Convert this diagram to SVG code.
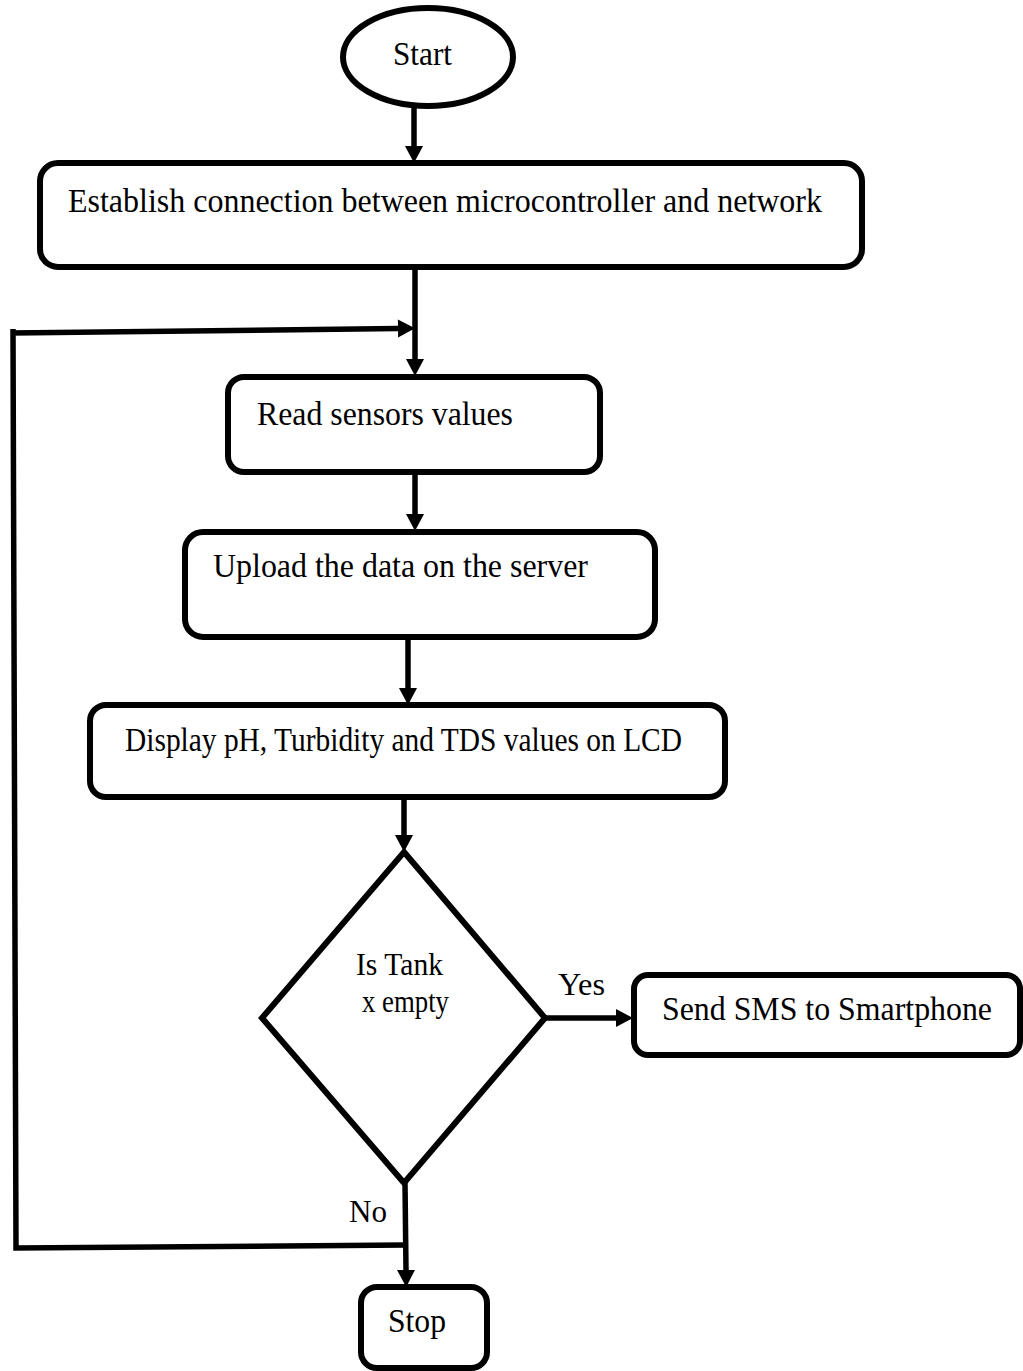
<svg xmlns="http://www.w3.org/2000/svg" width="1023" height="1371" viewBox="0 0 1023 1371">
<defs>
<style>
.box{fill:#fff;stroke:#000;stroke-width:6}
.ln{fill:none;stroke:#000;stroke-width:5.5}
.t{font-family:"Liberation Serif","Times New Roman",serif;font-size:33px;fill:#000}
.s{font-size:31px}
</style>
<marker id="ah" markerUnits="userSpaceOnUse" markerWidth="20" markerHeight="20" refX="0" refY="9" orient="auto" overflow="visible">
<path d="M0,0 L17,9 L0,18 Z" fill="#000"/>
</marker>
</defs>
<rect width="1023" height="1371" fill="#fff"/>
<g id="connectors">
<line class="ln" x1="414" y1="107" x2="414" y2="146" marker-end="url(#ah)"/>
<line class="ln" x1="415" y1="267" x2="415" y2="359" marker-end="url(#ah)"/>
<line class="ln" x1="415" y1="472" x2="415" y2="514" marker-end="url(#ah)"/>
<line class="ln" x1="408" y1="637" x2="408" y2="688" marker-end="url(#ah)"/>
<line class="ln" x1="404" y1="797" x2="404" y2="835" marker-end="url(#ah)"/>
<line class="ln" x1="545" y1="1018" x2="616" y2="1018" marker-end="url(#ah)"/>
<line class="ln" x1="405" y1="1183" x2="406" y2="1270" marker-end="url(#ah)"/>
<path class="ln" d="M406,1245 L16,1248 L13,329 M11,333 L398,328.5" marker-end="url(#ah)"/>
</g>
<g id="start">
<ellipse class="box" cx="428" cy="57" rx="85" ry="49"/>
<text class="t" x="393" y="65" textLength="59" lengthAdjust="spacingAndGlyphs">Start</text>
</g>
<g id="establish">
<rect class="box" x="40" y="163" width="822" height="104" rx="18"/>
<text class="t" x="68" y="212" textLength="754" lengthAdjust="spacingAndGlyphs">Establish connection between microcontroller and network</text>
</g>
<g id="read">
<rect class="box" x="228" y="377" width="372" height="95" rx="16"/>
<text class="t" x="257" y="425" textLength="256" lengthAdjust="spacingAndGlyphs">Read sensors values</text>
</g>
<g id="upload">
<rect class="box" x="185" y="532" width="470" height="105" rx="18"/>
<text class="t" x="213" y="577" textLength="375" lengthAdjust="spacingAndGlyphs">Upload the data on the server</text>
</g>
<g id="display">
<rect class="box" x="90" y="705" width="635" height="92" rx="16"/>
<text class="t" x="125" y="751" textLength="557" lengthAdjust="spacingAndGlyphs">Display pH, Turbidity and TDS values on LCD</text>
</g>
<g id="decision">
<polygon class="box" points="404,852 545,1018 404,1183 262,1018"/>
<text class="t s" x="356" y="975" textLength="87" lengthAdjust="spacingAndGlyphs">Is Tank</text>
<text class="t s" x="362" y="1012" textLength="87" lengthAdjust="spacingAndGlyphs">x empty</text>
</g>
<g id="labels">
<text class="t s" x="558" y="995" textLength="47" lengthAdjust="spacingAndGlyphs">Yes</text>
<text class="t s" x="349" y="1222" textLength="38" lengthAdjust="spacingAndGlyphs">No</text>
</g>
<g id="sms">
<rect class="box" x="634" y="975" width="386" height="80" rx="14"/>
<text class="t" x="662" y="1020" textLength="330" lengthAdjust="spacingAndGlyphs">Send SMS to Smartphone</text>
</g>
<g id="stop">
<rect class="box" x="361" y="1287" width="126" height="81" rx="16"/>
<text class="t" x="388" y="1332" textLength="58" lengthAdjust="spacingAndGlyphs">Stop</text>
</g>
</svg>
